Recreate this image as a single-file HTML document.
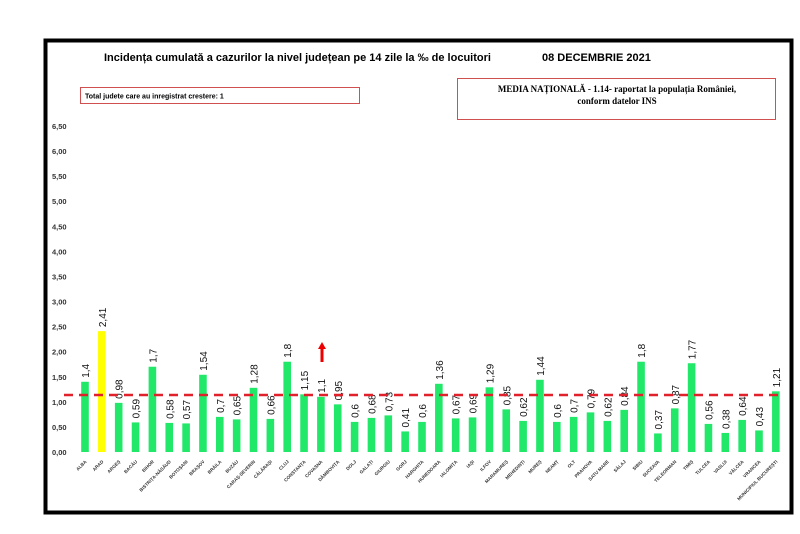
<!DOCTYPE html>
<html><head><meta charset="utf-8"><style>
body{margin:0;background:#fff;}
svg{display:block;font-family:"Liberation Sans",sans-serif;}
</style></head><body>
<svg id="s" width="800" height="534" xmlns="http://www.w3.org/2000/svg">
<rect x="0" y="0" width="800" height="534" fill="#fff"/>
<rect x="45.5" y="40.5" width="746" height="472" fill="#fff" stroke="#000" stroke-width="4"/>
<text x="104" y="61" font-size="11" font-weight="bold">Incidența cumulată a cazurilor la nivel județean pe 14 zile la ‰ de locuitori</text>
<text x="542" y="61" font-size="11" font-weight="bold">08 DECEMBRIE 2021</text>
<rect x="80.5" y="87.5" width="279" height="16" fill="none" stroke="#d05050" stroke-width="1"/>
<text x="85" y="98.5" font-size="7" font-weight="bold">Total judete care au inregistrat crestere: 1</text>
<rect x="457.5" y="78.5" width="318" height="41" fill="none" stroke="#d05050" stroke-width="1"/>
<text x="617" y="92" font-size="9" font-weight="bold" text-anchor="middle" font-family="Liberation Serif,serif">MEDIA NAȚIONALĂ - 1.14-  raportat la populația României,</text>
<text x="617" y="104" font-size="9" font-weight="bold" text-anchor="middle" font-family="Liberation Serif,serif">conform datelor INS</text>
<g id="g"></g>
<path d="M322 362 V348" stroke="#e00" stroke-width="3"/>
<path d="M318 349 L322 342 L326 349 Z" fill="#e00"/>
</svg>
<script>
var names=["ALBA","ARAD","ARGEȘ","BACĂU","BIHOR","BISTRIȚA-NĂSĂUD","BOTOȘANI","BRAȘOV","BRĂILA","BUZĂU","CARAȘ-SEVERIN","CĂLĂRAȘI","CLUJ","CONSTANȚA","COVASNA","DÂMBOVIȚA","DOLJ","GALAȚI","GIURGIU","GORJ","HARGHITA","HUNEDOARA","IALOMIȚA","IAȘI","ILFOV","MARAMUREȘ","MEHEDINȚI","MUREȘ","NEAMȚ","OLT","PRAHOVA","SATU MARE","SĂLAJ","SIBIU","SUCEAVA","TELEORMAN","TIMIȘ","TULCEA","VASLUI","VÂLCEA","VRANCEA","MUNICIPIUL BUCUREȘTI"];
var v=[1.4,2.41,0.98,0.59,1.7,0.58,0.57,1.54,0.7,0.65,1.28,0.66,1.8,1.15,1.1,0.95,0.6,0.68,0.73,0.41,0.6,1.36,0.67,0.69,1.29,0.85,0.62,1.44,0.6,0.7,0.79,0.62,0.84,1.8,0.37,0.87,1.77,0.56,0.38,0.64,0.43,1.21];
var h='',y0=452,k=50.15;
for(var i=0;i<=13;i++){var y=y0-i*25.08;h+='<text x="52" y="'+(y+3)+'" font-size="7.5" font-weight="bold" fill="#333">'+(i*0.5).toFixed(2).replace('.',',')+'</text>';}
for(var i=0;i<42;i++){var x=85+i*16.85,t=y0-v[i]*k;
h+='<rect x="'+(x-3.8)+'" y="'+t+'" width="7.6" height="'+(v[i]*k)+'" fill="'+(i==1?'#ffff00':'#22e86a')+'"/>';
if(i!=1){h+='<text transform="translate('+(x+4)+','+(t-4)+') rotate(-90)" font-size="10" fill="#111">'+String(v[i]).replace('.',',')+'</text>';}
else{h+='<text transform="translate('+(x+4)+','+(t-4)+') rotate(-90)" font-size="10" fill="#111">2,41</text>';}
h+='<text transform="translate('+(x+2)+',462) rotate(-45)" font-size="4.6" font-weight="bold" fill="#333" text-anchor="end">'+names[i]+'</text>';}
h+='<line x1="64" y1="395" x2="780" y2="395" stroke="#e0202a" stroke-width="2.5" stroke-dasharray="9,6"/>';
document.getElementById('g').innerHTML=h;
</script>
</body></html>
